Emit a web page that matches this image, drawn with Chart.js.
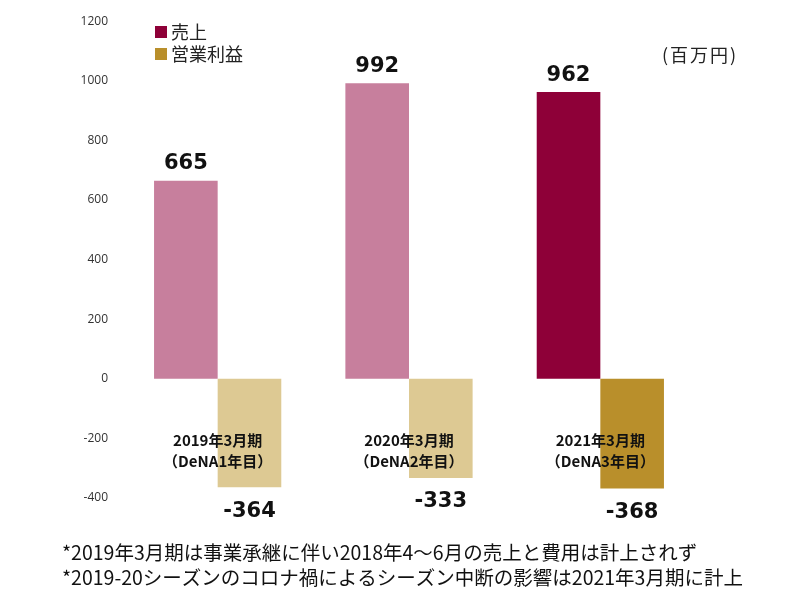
<!DOCTYPE html>
<html><head><meta charset="utf-8">
<script src="https://cdn.jsdelivr.net/npm/chart.js@4/dist/chart.umd.min.js"></script>
<style>html,body{margin:0;padding:0;background:#fff}#wrap{width:800px;height:600px;position:relative}</style>
</head><body><div id="wrap"><canvas id="c" width="800" height="600"></canvas></div>
<script>
const periods = ["2019年3月期", "2020年3月期", "2021年3月期"];
const periodSub = ["（DeNA1年目）", "（DeNA2年目）", "（DeNA3年目）"];
const sales = [665, 992, 962];
const profit = [-364, -333, -368];
const seriesNames = ["売上", "営業利益"];
const unitLabel = "(百万円)";
const notes = [
  "*2019年3月期は事業承継に伴い2018年4～6月の売上と費用は計上されず",
  "*2019-20シーズンのコロナ禍によるシーズン中断の影響は2021年3月期に計上"
];
const yMin = -400, yMax = 1200, yStep = 200;

const salesColors = ["#C77F9D", "#C77F9D", "#8E0038"];
const profitColors = ["#DDC993", "#DDC993", "#B98F2B"];
const legendColors = ["#8E0038", "#B98F2B"];
const JP = '"Noto Sans CJK JP", "Noto Sans", sans-serif';

const overlay = {
  id: 'overlay',
  afterDatasetsDraw(chart) {
    const ctx = chart.ctx;
    const x = chart.scales.x, y = chart.scales.y;
    ctx.save();
    ctx.textAlign = 'center';
    ctx.textBaseline = 'middle';
    ctx.fillStyle = '#111';
    ctx.font = 'bold 21px "DejaVu Sans", Verdana, sans-serif';
    chart.data.datasets.forEach((ds, di) => {
      const meta = chart.getDatasetMeta(di);
      meta.data.forEach((bar, i) => {
        const v = ds.data[i];
        const yy = v >= 0 ? y.getPixelForValue(v) - 17 : y.getPixelForValue(v) + 24;
        ctx.fillText(String(v), bar.x, yy);
      });
    });
    ctx.font = 'bold 15px ' + JP;
    periods.forEach((p, i) => {
      const cx = x.getPixelForValue(i);
      ctx.fillText(p, cx, y.getPixelForValue(-200) + 2);
      ctx.fillText(periodSub[i], cx, y.getPixelForValue(-200) + 23);
    });
    // legend
    ctx.textAlign = 'left';
    ctx.font = '18px ' + JP;
    seriesNames.forEach((n, i) => {
      const ly = 32 + i * 22;
      ctx.fillStyle = legendColors[i];
      ctx.fillRect(155, ly - 6, 12, 12);
      ctx.fillStyle = '#222';
      ctx.fillText(n, 171, ly);
    });
    ctx.font = '18px ' + JP;
    ctx.letterSpacing = '2px';
    ctx.fillText(unitLabel, 662, 55);
    ctx.letterSpacing = '0px';
    ctx.fillStyle = '#111';
    ctx.font = '19.5px ' + JP;
    notes.forEach((t, i) => ctx.fillText(t, 62, 553 + i * 25));
    ctx.restore();
  }
};

new Chart(document.getElementById('c'), {
  type: 'bar',
  data: {
    labels: periods,
    datasets: [
      { label: seriesNames[0], data: sales, backgroundColor: salesColors, barPercentage: 1, categoryPercentage: 0.665 },
      { label: seriesNames[1], data: profit, backgroundColor: profitColors, barPercentage: 1, categoryPercentage: 0.665 }
    ]
  },
  options: {
    responsive: false,
    animation: false,
    layout: { padding: { top: 17, bottom: 102, right: 104, left: 0 } },
    plugins: { legend: { display: false }, tooltip: { enabled: false } },
    scales: {
      x: { display: false },
      y: {
        min: yMin, max: yMax,
        ticks: { stepSize: yStep, padding: 14, color: '#333', callback: v => String(v), font: { size: 12, family: '"Open Sans", "Liberation Sans", sans-serif' } },
        grid: { display: false, drawTicks: false },
        border: { display: false },
        afterFit(s) { s.width = 122; }
      }
    }
  },
  plugins: [overlay]
});
</script></body></html>
